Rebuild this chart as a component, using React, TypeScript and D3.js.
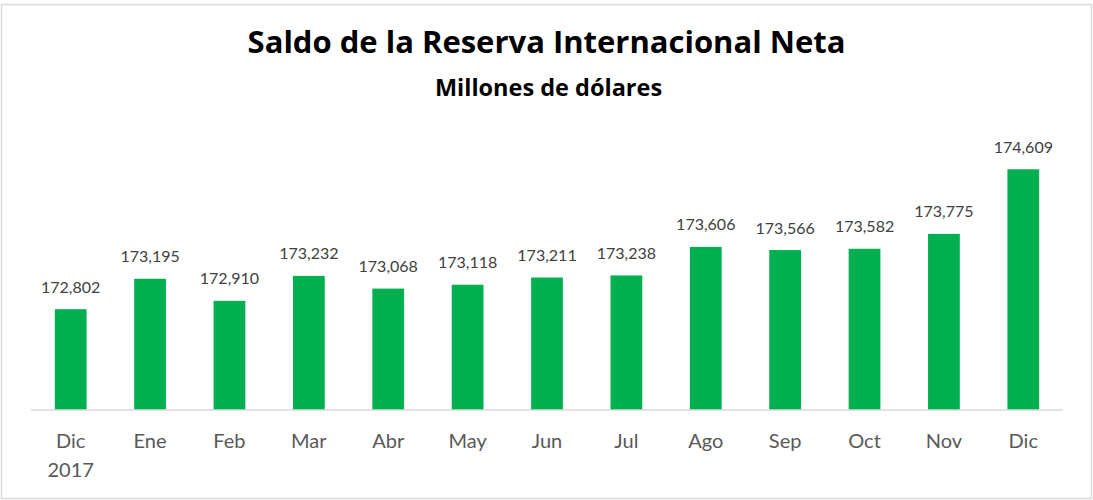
import React from "react";
import * as d3 from "d3";

const categories: string[][] = [["Dic", "2017"], ["Ene"], ["Feb"], ["Mar"], ["Abr"], ["May"], ["Jun"], ["Jul"], ["Ago"], ["Sep"], ["Oct"], ["Nov"], ["Dic"]];
const values: number[] = [172802, 173195, 172910, 173232, 173068, 173118, 173211, 173238, 173606, 173566, 173582, 173775, 174609];
const yDomain: [number, number] = [171500, 175000];
const title = "Saldo de la Reserva Internacional Neta";
const subtitle = "Millones de dólares";

const W = 1093;
const H = 500;
const FONT = "Lato, 'Noto Sans', sans-serif";
const TFONT = "'Open Sans', Lato, sans-serif";

export default function App() {
  const keys = categories.map((_, i) => String(i));
  const x = d3.scaleBand<string>().domain(keys).range([31, 1063]).paddingInner(0.6).paddingOuter(0.3);
  const y = d3.scaleLinear().domain(yDomain).range([410, 139]);
  const fmt = d3.format(",");
  return (
    <svg width={W} height={H} style={{ position: "absolute", left: 0, top: 0, background: "#fff" }}>
      <rect x={1.5} y={4.5} width={1090} height={494} fill="#fff" stroke="#d9d9d9" strokeWidth={1.5} />
      <text x={546.5} y={53} textAnchor="middle" fontFamily={TFONT} fontWeight={700} fontSize={31} fill="#000">{title}</text>
      <text x={548.5} y={96} textAnchor="middle" fontFamily={TFONT} fontWeight={700} fontSize={23.5} fill="#000">{subtitle}</text>
      {values.map((v, i) => (
        <g key={i}>
          <rect x={x(String(i))} y={y(v)} width={x.bandwidth()} height={y(yDomain[0]) - y(v)} fill="#00B050" />
          <text x={(x(String(i)) as number) + x.bandwidth() / 2} y={y(v) - 16.5} textAnchor="middle" fontFamily={FONT} fontSize={16} fill="#404040">{fmt(v)}</text>
        </g>
      ))}
      <line x1={31} x2={1063} y1={410} y2={410} stroke="#d9d9d9" strokeWidth={1.5} />
      {categories.map((lines, i) => (
        <text key={i} textAnchor="middle" fontFamily={FONT} fontSize={20} fill="#595959">
          {lines.map((l, j) => (
            <tspan key={j} x={(x(String(i)) as number) + x.bandwidth() / 2} y={448 + j * 29}>{l}</tspan>
          ))}
        </text>
      ))}
    </svg>
  );
}
